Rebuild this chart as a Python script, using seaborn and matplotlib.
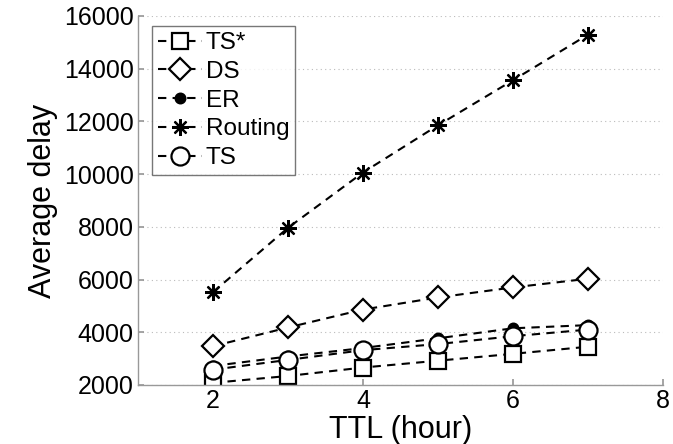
import matplotlib
matplotlib.use("Agg")
import matplotlib.pyplot as plt
import seaborn as sns
import pandas as pd

ttl = [2, 3, 4, 5, 6, 7]
ts_star = [2080, 2340, 2660, 2920, 3180, 3450]
ds = [3470, 4180, 4860, 5320, 5700, 6030]
er = [2720, 3080, 3400, 3770, 4150, 4270]
routing = [5520, 7960, 10060, 11850, 13560, 15290]
ts = [2580, 2950, 3320, 3550, 3850, 4100]

series_names = ["TS*", "DS", "ER", "Routing", "TS"]
series_values = [ts_star, ds, er, routing, ts]
x_ticks = [2, 4, 6, 8]
y_ticks = [2000, 4000, 6000, 8000, 10000, 12000, 14000, 16000]

sns.set_theme(style="white")
plt.rcParams["font.family"] = ["Liberation Sans", "DejaVu Sans"]
plt.rcParams["text.color"] = "black"
plt.rcParams["axes.labelcolor"] = "black"

fig = plt.figure(figsize=(6.73, 4.44), dpi=100)
ax = fig.add_axes([0.205, 0.133, 0.78, 0.831])

styles = {
    "TS*": dict(marker="s", markersize=11, markerfacecolor="white"),
    "DS": dict(marker="D", markersize=11, markerfacecolor="white"),
    "ER": dict(marker="o", markersize=7, markerfacecolor="black"),
    "Routing": dict(marker=(8, 2, 0), markersize=12),
    "TS": dict(marker="o", markersize=13, markerfacecolor="white"),
}

for name, vals in zip(series_names, series_values):
    df = pd.DataFrame({"TTL": ttl, "delay": vals})
    sns.lineplot(data=df, x="TTL", y="delay", ax=ax, color="black",
                 linestyle=(0, (4, 3)), linewidth=1.5, markeredgecolor="black",
                 markeredgewidth=1.6, label=name, **styles[name])

ax.set_xlim(1, 8)
ax.set_ylim(2000, 16000)
ax.set_xticks(x_ticks)
ax.set_yticks(y_ticks)
ax.yaxis.grid(True, linestyle=(0, (1, 3)), color="#bbbbbb", linewidth=0.8)
ax.xaxis.grid(False)
for s in ["top", "right"]:
    ax.spines[s].set_visible(False)
for s in ["left", "bottom"]:
    ax.spines[s].set_color("#999999")
    ax.spines[s].set_linewidth(1.0)
ax.tick_params(axis="both", direction="in", length=4, color="#999999",
               labelsize=18, labelcolor="black", bottom=True, left=True, pad=3)
ax.set_xlabel("TTL (hour)", fontsize=22, labelpad=1)
ax.set_ylabel("Average delay", fontsize=22, labelpad=4)

leg = ax.legend(loc="upper left", bbox_to_anchor=(0.027, 0.973), fontsize=17.5,
                handlelength=1.8, handletextpad=0.15, labelspacing=0.28,
                borderpad=0.25, borderaxespad=0.0, frameon=True, fancybox=False)
leg.get_frame().set_edgecolor("#555555")
leg.get_frame().set_linewidth(1.0)

fig.savefig("out.png", dpi=100)
